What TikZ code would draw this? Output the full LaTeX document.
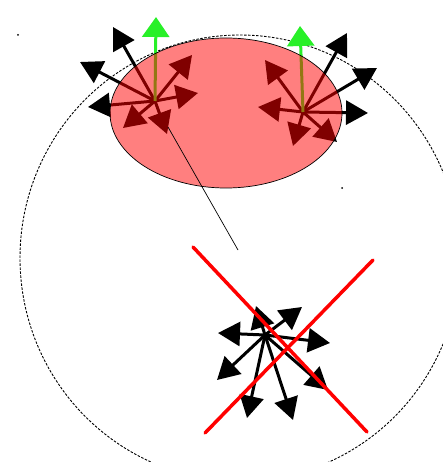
\documentclass[tikz,border=0pt]{standalone}
\usetikzlibrary{arrows.meta}
\definecolor{vecgreen}{RGB}{40,240,40}
\tikzset{
  vec/.style={line width=3pt, draw=black, -{Triangle[length=22pt,width=24pt]}},
  gvec/.style={line width=3pt, draw=vecgreen, -{Triangle[length=20pt,width=27pt]}},
  body/.style={draw=black, line width=0.7pt, fill=red, fill opacity=0.5},
  bound/.style={draw=black, line width=0.9pt, dash pattern=on 2.5pt off 1.5pt},
  cross/.style={draw=red, line width=3.5pt, line cap=round},
  thin/.style={draw=black, line width=0.7pt}
}
\begin{document}
\begin{tikzpicture}[x=1pt,y=-1pt]
\useasboundingbox (0,0) rectangle (443,462);
% outer dashed boundary
\draw[bound] (240,258) ellipse [x radius=220, y radius=223];
% star centres
\coordinate (L) at (155,101);
\coordinate (R) at (303,112);
\coordinate (B) at (265,335);
% left star tips
\coordinate (L1) at (113,27);
\coordinate (L2) at (80,62);
\coordinate (L3) at (88,107);
\coordinate (L4) at (192,55);
\coordinate (L5) at (198,93);
\coordinate (L6) at (123,128);
\coordinate (L7) at (167,134);
\coordinate (LG) at (156,17);
% right star tips
\coordinate (R1) at (347,33);
\coordinate (R2) at (377,68);
\coordinate (R3) at (368,113);
\coordinate (R4) at (265,60);
\coordinate (R5) at (258,107);
\coordinate (R6) at (337,142);
\coordinate (R7) at (293,146);
\coordinate (RG) at (300,26);
% bottom star tips
\coordinate (B1) at (302,307);
\coordinate (B2) at (330,343);
\coordinate (B3) at (328,390);
\coordinate (B4) at (293,420);
\coordinate (B5) at (247,418);
\coordinate (B6) at (217,380);
\coordinate (B7) at (218,333);
\coordinate (B8) at (256,306);
% arrows of the two upper stars (under the body)
\foreach \t in {L1,L2,L3,L4,L5,L6,L7} \draw[vec] (L) -- (\t);
\foreach \t in {R1,R2,R3,R4,R5,R6,R7} \draw[vec] (R) -- (\t);
\draw[gvec] (L) -- (LG);
\draw[gvec] (R) -- (RG);
% the body
\path[body] (226,113) ellipse [x radius=116, y radius=75];
% thin line
\coordinate (T1) at (168,127);
\coordinate (T2) at (238,250);
\draw[thin] (T1) -- (T2);
% bottom star
\foreach \t in {B1,B2,B3,B4,B5,B6,B7,B8} \draw[vec] (B) -- (\t);
% red cross
\coordinate (X1) at (193,247);
\coordinate (X2) at (367,432);
\coordinate (X3) at (373,260);
\coordinate (X4) at (205,433);
\draw[cross] (X1) -- (X2);
\draw[cross] (X3) -- (X4);
% specks
\fill[black] (18,35) circle [radius=1];
\fill[black] (342,188) circle [radius=1];
\end{tikzpicture}
\end{document}
